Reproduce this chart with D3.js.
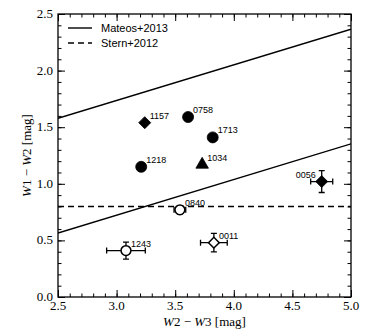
<!DOCTYPE html>
<html>
<head>
<meta charset="utf-8">
<script src="https://cdn.jsdelivr.net/npm/d3@7"></script>
<style>
  body { margin: 0; background: #fff; }
  .tick-label { font-family: "Liberation Serif", serif; font-size: 13px; }
  .axis-text { font-family: "Liberation Serif", serif; font-size: 13px; }
  .pt-label { font-family: "Liberation Sans", Arial, sans-serif; font-size: 9px; }
  .legend-text { font-family: "Liberation Sans", Arial, sans-serif; font-size: 11px; }
</style>
</head>
<body>
<div class="chart"></div>
<script>
var svgWidth = 390;
var svgHeight = 332;

var margin = { top: 14, right: 39, bottom: 35, left: 58 };

var width = svgWidth - margin.left - margin.right;
var height = svgHeight - margin.top - margin.bottom;

// sources: name, W2-W3, W1-W2, errors, marker
var names   = ["1157", "0758", "1713", "1034", "1218", "0840", "1243", "0011", "0056"];
var w2w3    = [3.24, 3.61, 3.82, 3.73, 3.21, 3.54, 3.08, 3.83, 4.75];
var w1w2    = [1.54, 1.59, 1.41, 1.17, 1.15, 0.77, 0.41, 0.48, 1.02];
var xErr    = [0, 0, 0, 0, 0, 0.05, 0.165, 0.114, 0.094];
var yErr    = [0, 0, 0, 0, 0, 0.035, 0.075, 0.082, 0.097];
var shapes  = ["diamond", "circle", "circle", "triangle", "circle", "circle", "circle", "diamond", "diamond"];
var filled  = [true, true, true, true, true, false, false, false, true];
var labelLeft = [false, false, false, false, false, false, false, false, true];

// Mateos+2013 wedge: y = 0.315 x + 0.791 and y = 0.315 x - 0.222 ; Stern+2012: y = 0.8
var mateosSlope = 0.315;
var mateosIntercepts = [0.791, -0.222];
var sternCut = 0.8;

var xTicks = [2.5, 3.0, 3.5, 4.0, 4.5, 5.0];
var yTicks = [0.0, 0.5, 1.0, 1.5, 2.0, 2.5];

var svg = d3.select(".chart")
  .append("svg")
  .attr("width", svgWidth)
  .attr("height", svgHeight);

var chartGroup = svg.append("g")
  .attr("transform", `translate(${margin.left}, ${margin.top})`);

var x = d3.scaleLinear().domain([2.5, 5.0]).range([0, width]);
var y = d3.scaleLinear().domain([0, 2.5]).range([height, 0]);

chartGroup.append("clipPath").attr("id", "clip")
  .append("rect").attr("width", width).attr("height", height);

var xMinor = d3.range(25, 51).map(d => d / 10);
var yMinor = d3.range(0, 26).map(d => d / 10);

// minor + major ticks on all four sides, pointing inward
function addTicks(axisFn, scale, vals, len, transform) {
  chartGroup.append("g")
    .attr("transform", transform)
    .call(axisFn(scale).tickValues(vals).tickSize(len).tickFormat(""))
    .call(g => g.select(".domain").remove())
    .call(g => g.selectAll("line").attr("stroke", "#000").attr("stroke-width", 1));
}
addTicks(d3.axisTop, x, xMinor, 3.5, `translate(0, ${height})`);
addTicks(d3.axisTop, x, xTicks, 7, `translate(0, ${height})`);
addTicks(d3.axisBottom, x, xMinor, 3.5, "translate(0,0)");
addTicks(d3.axisBottom, x, xTicks, 7, "translate(0,0)");
addTicks(d3.axisRight, y, yMinor, 3.5, "translate(0,0)");
addTicks(d3.axisRight, y, yTicks, 7, "translate(0,0)");
addTicks(d3.axisLeft, y, yMinor, 3.5, `translate(${width},0)`);
addTicks(d3.axisLeft, y, yTicks, 7, `translate(${width},0)`);

// tick labels
chartGroup.selectAll(".xlab")
  .data(xTicks)
  .enter()
  .append("text")
  .attr("class", "tick-label")
  .attr("x", d => x(d))
  .attr("y", height + 13)
  .attr("text-anchor", "middle")
  .text(d => d.toFixed(1));

chartGroup.selectAll(".ylab")
  .data(yTicks)
  .enter()
  .append("text")
  .attr("class", "tick-label")
  .attr("x", -5)
  .attr("y", d => y(d) + 4)
  .attr("text-anchor", "end")
  .text(d => d.toFixed(1));

// frame
chartGroup.append("rect")
  .attr("width", width)
  .attr("height", height)
  .attr("fill", "none")
  .attr("stroke", "#000")
  .attr("stroke-width", 1.3);

// axis labels
var xLabel = chartGroup.append("text")
  .attr("class", "axis-text")
  .attr("x", width / 2)
  .attr("y", height + 29)
  .attr("text-anchor", "middle");
xLabel.append("tspan").attr("font-style", "italic").text("W");
xLabel.append("tspan").text("2 \u2212 ");
xLabel.append("tspan").attr("font-style", "italic").text("W");
xLabel.append("tspan").text("3 [mag]");

var yLabel = chartGroup.append("text")
  .attr("class", "axis-text")
  .attr("transform", "rotate(-90)")
  .attr("x", -height / 2)
  .attr("y", -27)
  .attr("text-anchor", "middle");
yLabel.append("tspan").attr("font-style", "italic").text("W");
yLabel.append("tspan").text("1 \u2212 ");
yLabel.append("tspan").attr("font-style", "italic").text("W");
yLabel.append("tspan").text("2 [mag]");

// selection lines
var lines = chartGroup.append("g").attr("clip-path", "url(#clip)");
mateosIntercepts.forEach(function(b) {
  lines.append("line")
    .attr("x1", x(2.5)).attr("y1", y(mateosSlope * 2.5 + b))
    .attr("x2", x(5.0)).attr("y2", y(mateosSlope * 5.0 + b))
    .attr("stroke", "#000")
    .attr("stroke-width", 1.4);
});
lines.append("line")
  .attr("x1", x(2.5)).attr("y1", y(sternCut))
  .attr("x2", x(5.0)).attr("y2", y(sternCut))
  .attr("stroke", "#000")
  .attr("stroke-width", 1.4)
  .attr("stroke-dasharray", "6,4");

// legend
var legend = chartGroup.append("g").attr("transform", "translate(10, 14)");
legend.append("line").attr("x1", 0).attr("x2", 24).attr("y1", 0).attr("y2", 0)
  .attr("stroke", "#000").attr("stroke-width", 1.4);
legend.append("text").attr("class", "legend-text").attr("x", 33).attr("y", 4).text("Mateos+2013");
legend.append("line").attr("x1", 0).attr("x2", 24).attr("y1", 15).attr("y2", 15)
  .attr("stroke", "#000").attr("stroke-width", 1.4).attr("stroke-dasharray", "6,4");
legend.append("text").attr("class", "legend-text").attr("x", 33).attr("y", 19).text("Stern+2012");

// data
var pts = names.map(function(n, i) {
  return { name: n, x: w2w3[i], y: w1w2[i], xe: xErr[i], ye: yErr[i],
           shape: shapes[i], filled: filled[i], left: labelLeft[i] };
});

var errGroup = chartGroup.append("g");
pts.filter(d => d.xe > 0).forEach(function(d) {
  var cx = x(d.x), cy = y(d.y);
  var x0 = x(d.x - d.xe), x1 = x(d.x + d.xe);
  var y0 = y(d.y - d.ye), y1 = y(d.y + d.ye);
  var cap = 3;
  errGroup.append("path")
    .attr("d", `M${x0},${cy}H${x1}M${x0},${cy - cap}V${cy + cap}M${x1},${cy - cap}V${cy + cap}` +
               `M${cx},${y0}V${y1}M${cx - cap},${y0}H${cx + cap}M${cx - cap},${y1}H${cx + cap}`)
    .attr("stroke", "#000")
    .attr("stroke-width", 1.3)
    .attr("fill", "none");
});

var symbolTypes = { circle: d3.symbolCircle, diamond: d3.symbolSquare, triangle: d3.symbolTriangle };
var symbolSizes = { circle: 95, diamond: 72, triangle: 68 };

chartGroup.selectAll(".marker")
  .data(pts)
  .enter()
  .append("path")
  .attr("class", "marker")
  .attr("d", d => d3.symbol().type(symbolTypes[d.shape]).size(d.filled ? symbolSizes[d.shape] : symbolSizes[d.shape] * 0.8)())
  .attr("transform", d => `translate(${x(d.x)}, ${y(d.y)})` + (d.shape === "diamond" ? " rotate(45)" : ""))
  .attr("fill", d => d.filled ? "#000" : "#fff")
  .attr("stroke", "#000")
  .attr("stroke-width", d => d.filled ? 0.8 : 1.5);

chartGroup.selectAll(".pt-label")
  .data(pts)
  .enter()
  .append("text")
  .attr("class", "pt-label")
  .attr("x", d => d.left ? x(d.x) - 6 : x(d.x) + 5)
  .attr("y", d => y(d.y) - 4)
  .attr("text-anchor", d => d.left ? "end" : "start")
  .text(d => d.name);
</script>
</body>
</html>
